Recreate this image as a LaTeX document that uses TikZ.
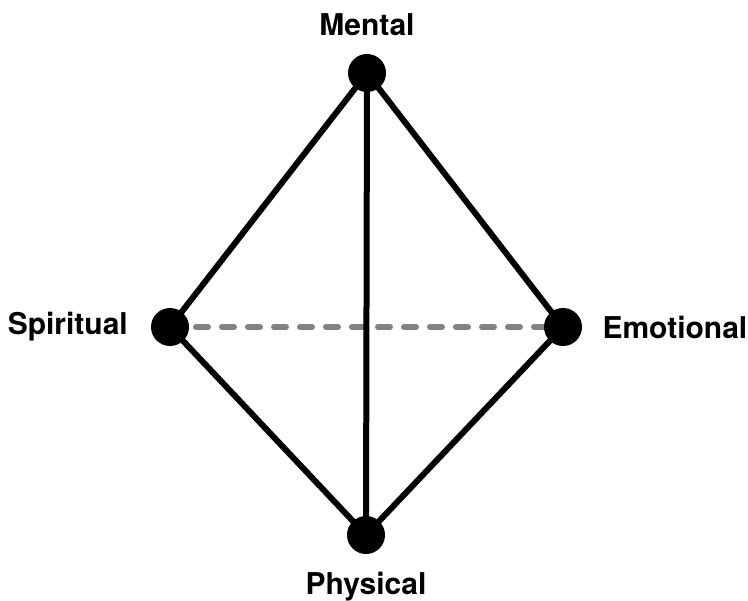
\documentclass[tikz,border=0pt]{standalone}
\usepackage{fontspec}
\setmainfont{TeX Gyre Heros}
\usetikzlibrary{
  positioning,
  backgrounds,
}
\definecolor{dashgray}{RGB}{130,130,134}
\tikzset{
  vertex/.style={circle, fill=black, inner sep=0pt, minimum size=28.5pt},
  side/.style={line width=4.5pt, black},
  hidden/.style={line width=4.5pt, dashgray, line cap=round, dash pattern=on 9pt off 10.5pt},
  tag/.style={inner sep=0pt, font=\fontsize{22.5}{26}\selectfont\bfseries},
}

\begin{document}
\begin{tikzpicture}[x=0.75pt, y=0.75pt]
      \useasboundingbox (0,0) rectangle (748,600);
      % corners of the tetrahedron
      \node[vertex] (mental) at (367,527) {};
      \node[vertex] (spirit) at (170,273) {};
      \node[vertex] (emotion) at (563,273) {};
      \node[vertex] (physic) at (366,65) {};

      \node[tag] (lmental) [above = 13pt of mental] {Mental};
      \node[tag] (lspirit) [left = 17pt of spirit] {Spiritual};
      \node[tag] (lemotion) [right = 15pt of emotion] {Emotional};
      \node[tag] (lphysic) [below = 13pt of physic] {Physical};

      \begin{scope}[on background layer]
        \draw[hidden] (spirit.center) -- (emotion.center);
        \draw[side] (mental.center) -- (spirit.center) -- (physic.center)
          -- (emotion.center) -- cycle;
        \draw[side] (mental.center) -- (physic.center);
      \end{scope}
    \end{tikzpicture}
\end{document}
